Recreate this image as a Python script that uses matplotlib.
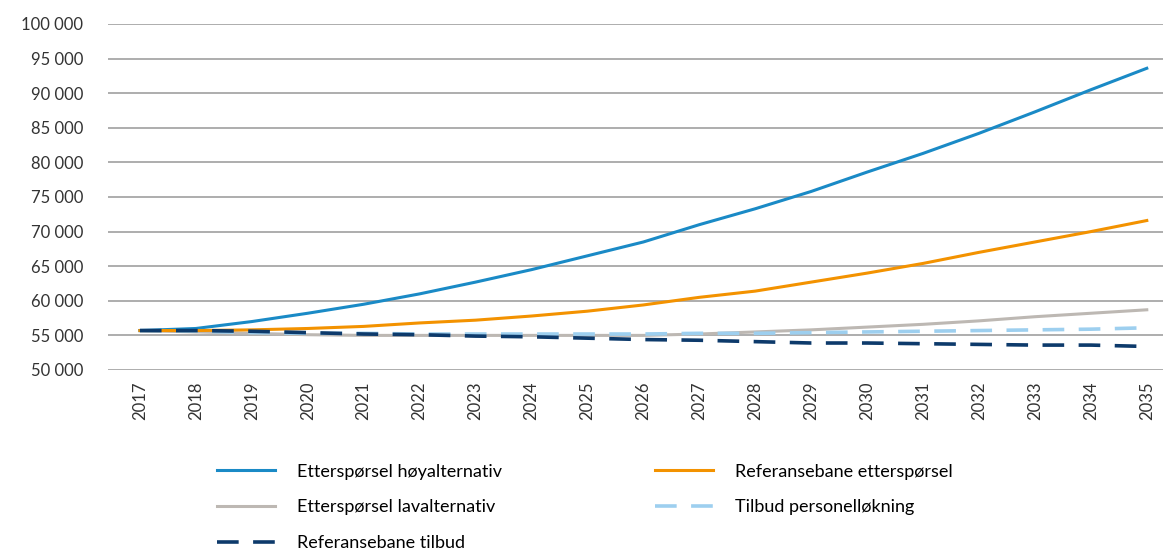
import matplotlib.pyplot as plt
from matplotlib.ticker import FuncFormatter

plt.rcParams['font.family'] = ['Lato', 'DejaVu Sans']

years = list(range(2017, 2036))

hoy = [55700, 56000, 57000, 58200, 59500, 61000, 62700, 64500, 66500, 68500,
       71000, 73300, 75800, 78600, 81300, 84200, 87300, 90500, 93600]
ref_ettersporsel = [55700, 55700, 55800, 56000, 56300, 56800, 57200, 57800, 58500, 59400,
                    60500, 61400, 62700, 64000, 65400, 67000, 68500, 70000, 71600]
lav = [55700, 55500, 55300, 55100, 55000, 55000, 55000, 55000, 55000, 55000,
       55200, 55500, 55800, 56200, 56600, 57100, 57700, 58200, 58700]
personell = [55700, 55600, 55400, 55300, 55300, 55200, 55200, 55200, 55200, 55200,
             55300, 55300, 55400, 55500, 55600, 55700, 55800, 55900, 56100]
ref_tilbud = [55700, 55700, 55600, 55400, 55200, 55100, 54900, 54800, 54600, 54400,
              54300, 54100, 53900, 53900, 53800, 53700, 53600, 53600, 53400]

fig = plt.figure(figsize=(11.63, 5.54), dpi=100)
ax = fig.add_axes([108/1163, 1-370/554, 1-108/1163, 346/554])

l_hoy, = ax.plot(years, hoy, color='#1a8ac6', lw=2.2, zorder=3)
l_lav, = ax.plot(years, lav, color='#bdb8b3', lw=2.2, zorder=2)
l_pers, = ax.plot(years, personell, color='#9dcfef', lw=2.6, ls=(0, (6, 4)), zorder=3)
l_ref_e, = ax.plot(years, ref_ettersporsel, color='#f39200', lw=2.2, zorder=3)
l_ref_t, = ax.plot(years, ref_tilbud, color='#0d3a6b', lw=2.6, ls=(0, (6, 4)), zorder=4)

ax.set_xlim(2016.43, 2035.29)
ax.set_ylim(50000, 100000)
ax.set_yticks(range(50000, 100001, 5000))
ax.yaxis.set_major_formatter(FuncFormatter(lambda v, p: f"{int(v):,}".replace(",", " ")))
ax.set_xticks(years)
ax.set_xticklabels([str(y) for y in years], rotation=90, fontsize=12, color='#333333')
ax.tick_params(axis='y', labelsize=12, labelcolor='#333333', length=0, pad=18)
ax.tick_params(axis='x', length=0, pad=8)
ax.grid(axis='y', color='#a0a0a0', lw=1.2)
ax.set_axisbelow(True)
for s in ax.spines.values():
    s.set_visible(False)

handles = [l_hoy, l_lav, l_ref_t, l_ref_e, l_pers]
labels = ['Etterspørsel høyalternativ', 'Etterspørsel lavalternativ', 'Referansebane tilbud',
          'Referansebane etterspørsel', 'Tilbud personelløkning']
fig.legend(handles, labels, ncol=2, frameon=False, loc='lower left',
           bbox_to_anchor=(201/1163, -0.024), fontsize=13, handlelength=3.2,
           handletextpad=1.2, columnspacing=8.5, labelspacing=1.09)

fig.savefig('out.png', dpi=100)
